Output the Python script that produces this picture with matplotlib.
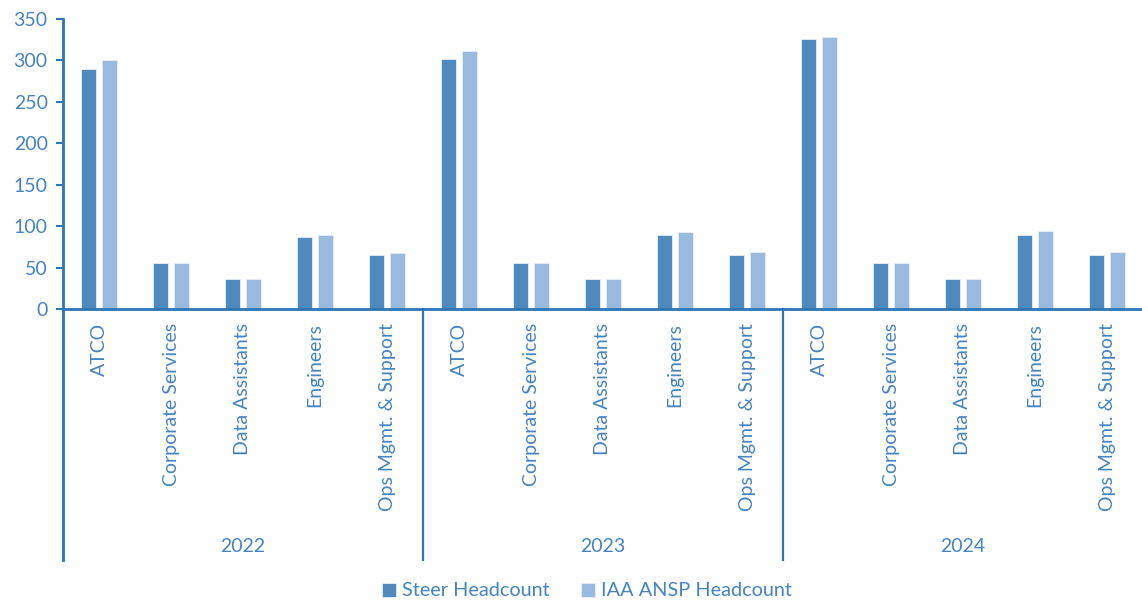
import matplotlib
matplotlib.use("Agg")
import matplotlib.pyplot as plt
import matplotlib.transforms as mtransforms
from matplotlib.lines import Line2D
import numpy as np

years = ["2022", "2023", "2024"]
categories = ["ATCO", "Corporate Services", "Data Assistants", "Engineers", "Ops Mgmt. & Support"]
steer_headcount = [290, 56, 37, 87, 66,
                   301, 56, 37, 90, 66,
                   326, 56, 37, 90, 66]
iaa_headcount = [300, 56, 37, 90, 68,
                 311, 56, 37, 93, 69,
                 328, 56, 37, 94, 69]
series_names = ["Steer Headcount", "IAA ANSP Headcount"]
y_ticks = [0, 50, 100, 150, 200, 250, 300, 350]

steer_color = "#4F89BD"
iaa_color = "#99B9DF"
axis_color = "#2E75B6"
text_color = "#4483C4"

plt.rcParams["font.family"] = ["Lato", "DejaVu Sans"]

W, H = 1142, 605
fig = plt.figure(figsize=(W / 100, H / 100), dpi=100)
ax = fig.add_axes([63 / W, 1 - 309.3 / H, (1143 - 63) / W, (309.3 - 18.7) / H])

n = len(steer_headcount)
x = np.arange(n)
bw = 0.22
off = 0.145
ax.bar(x - off, steer_headcount, width=bw, color=steer_color,
       edgecolor="#E8EEF7", linewidth=0.6, label=series_names[0], zorder=2)
ax.bar(x + off, iaa_headcount, width=bw, color=iaa_color,
       edgecolor="#E8EEF7", linewidth=0.6, label=series_names[1], zorder=2)

ax.set_xlim(-0.5, n - 0.5)
ax.set_ylim(0, 350)
ax.set_yticks(y_ticks)
ax.tick_params(axis="y", colors=axis_color, labelcolor=text_color, labelsize=14,
               length=5, width=1.5, direction="out", pad=6)

for side in ("top", "right"):
    ax.spines[side].set_visible(False)
for side in ("left", "bottom"):
    ax.spines[side].set_color(axis_color)
    ax.spines[side].set_linewidth(2)

# category labels (rotated) under each slot
all_cats = categories * len(years)
ax.set_xticks(x)
ax.set_xticklabels(all_cats, rotation=90, va="top", ha="center",
                   color=text_color, fontsize=14)
ax.tick_params(axis="x", length=0, pad=10)

# year group labels and separators
trans = mtransforms.blended_transform_factory(ax.transData, ax.transAxes)
ax_h = 309.3 - 18.7
sep_bottom = (309.3 - 560) / ax_h
year_y = (309.3 - 546) / ax_h
ng = len(categories)
for gi, yr in enumerate(years):
    center = gi * ng + (ng - 1) / 2
    ax.text(center, year_y, yr, transform=trans, ha="center", va="center",
            color=text_color, fontsize=14)
for b in range(len(years)):
    xb = b * ng - 0.5
    ax.add_line(Line2D([xb, xb], [0, sep_bottom], transform=trans,
                       color=axis_color, linewidth=2 if b == 0 else 1.6,
                       clip_on=False))

leg = fig.legend(loc="center", bbox_to_anchor=(587 / W, 1 - 591 / H), ncol=2,
                 frameon=False, fontsize=14.3, handlelength=0.7, handleheight=0.7,
                 handletextpad=0.3, columnspacing=1.6)
for t in leg.get_texts():
    t.set_color(text_color)

fig.savefig("out.png", dpi=100)
